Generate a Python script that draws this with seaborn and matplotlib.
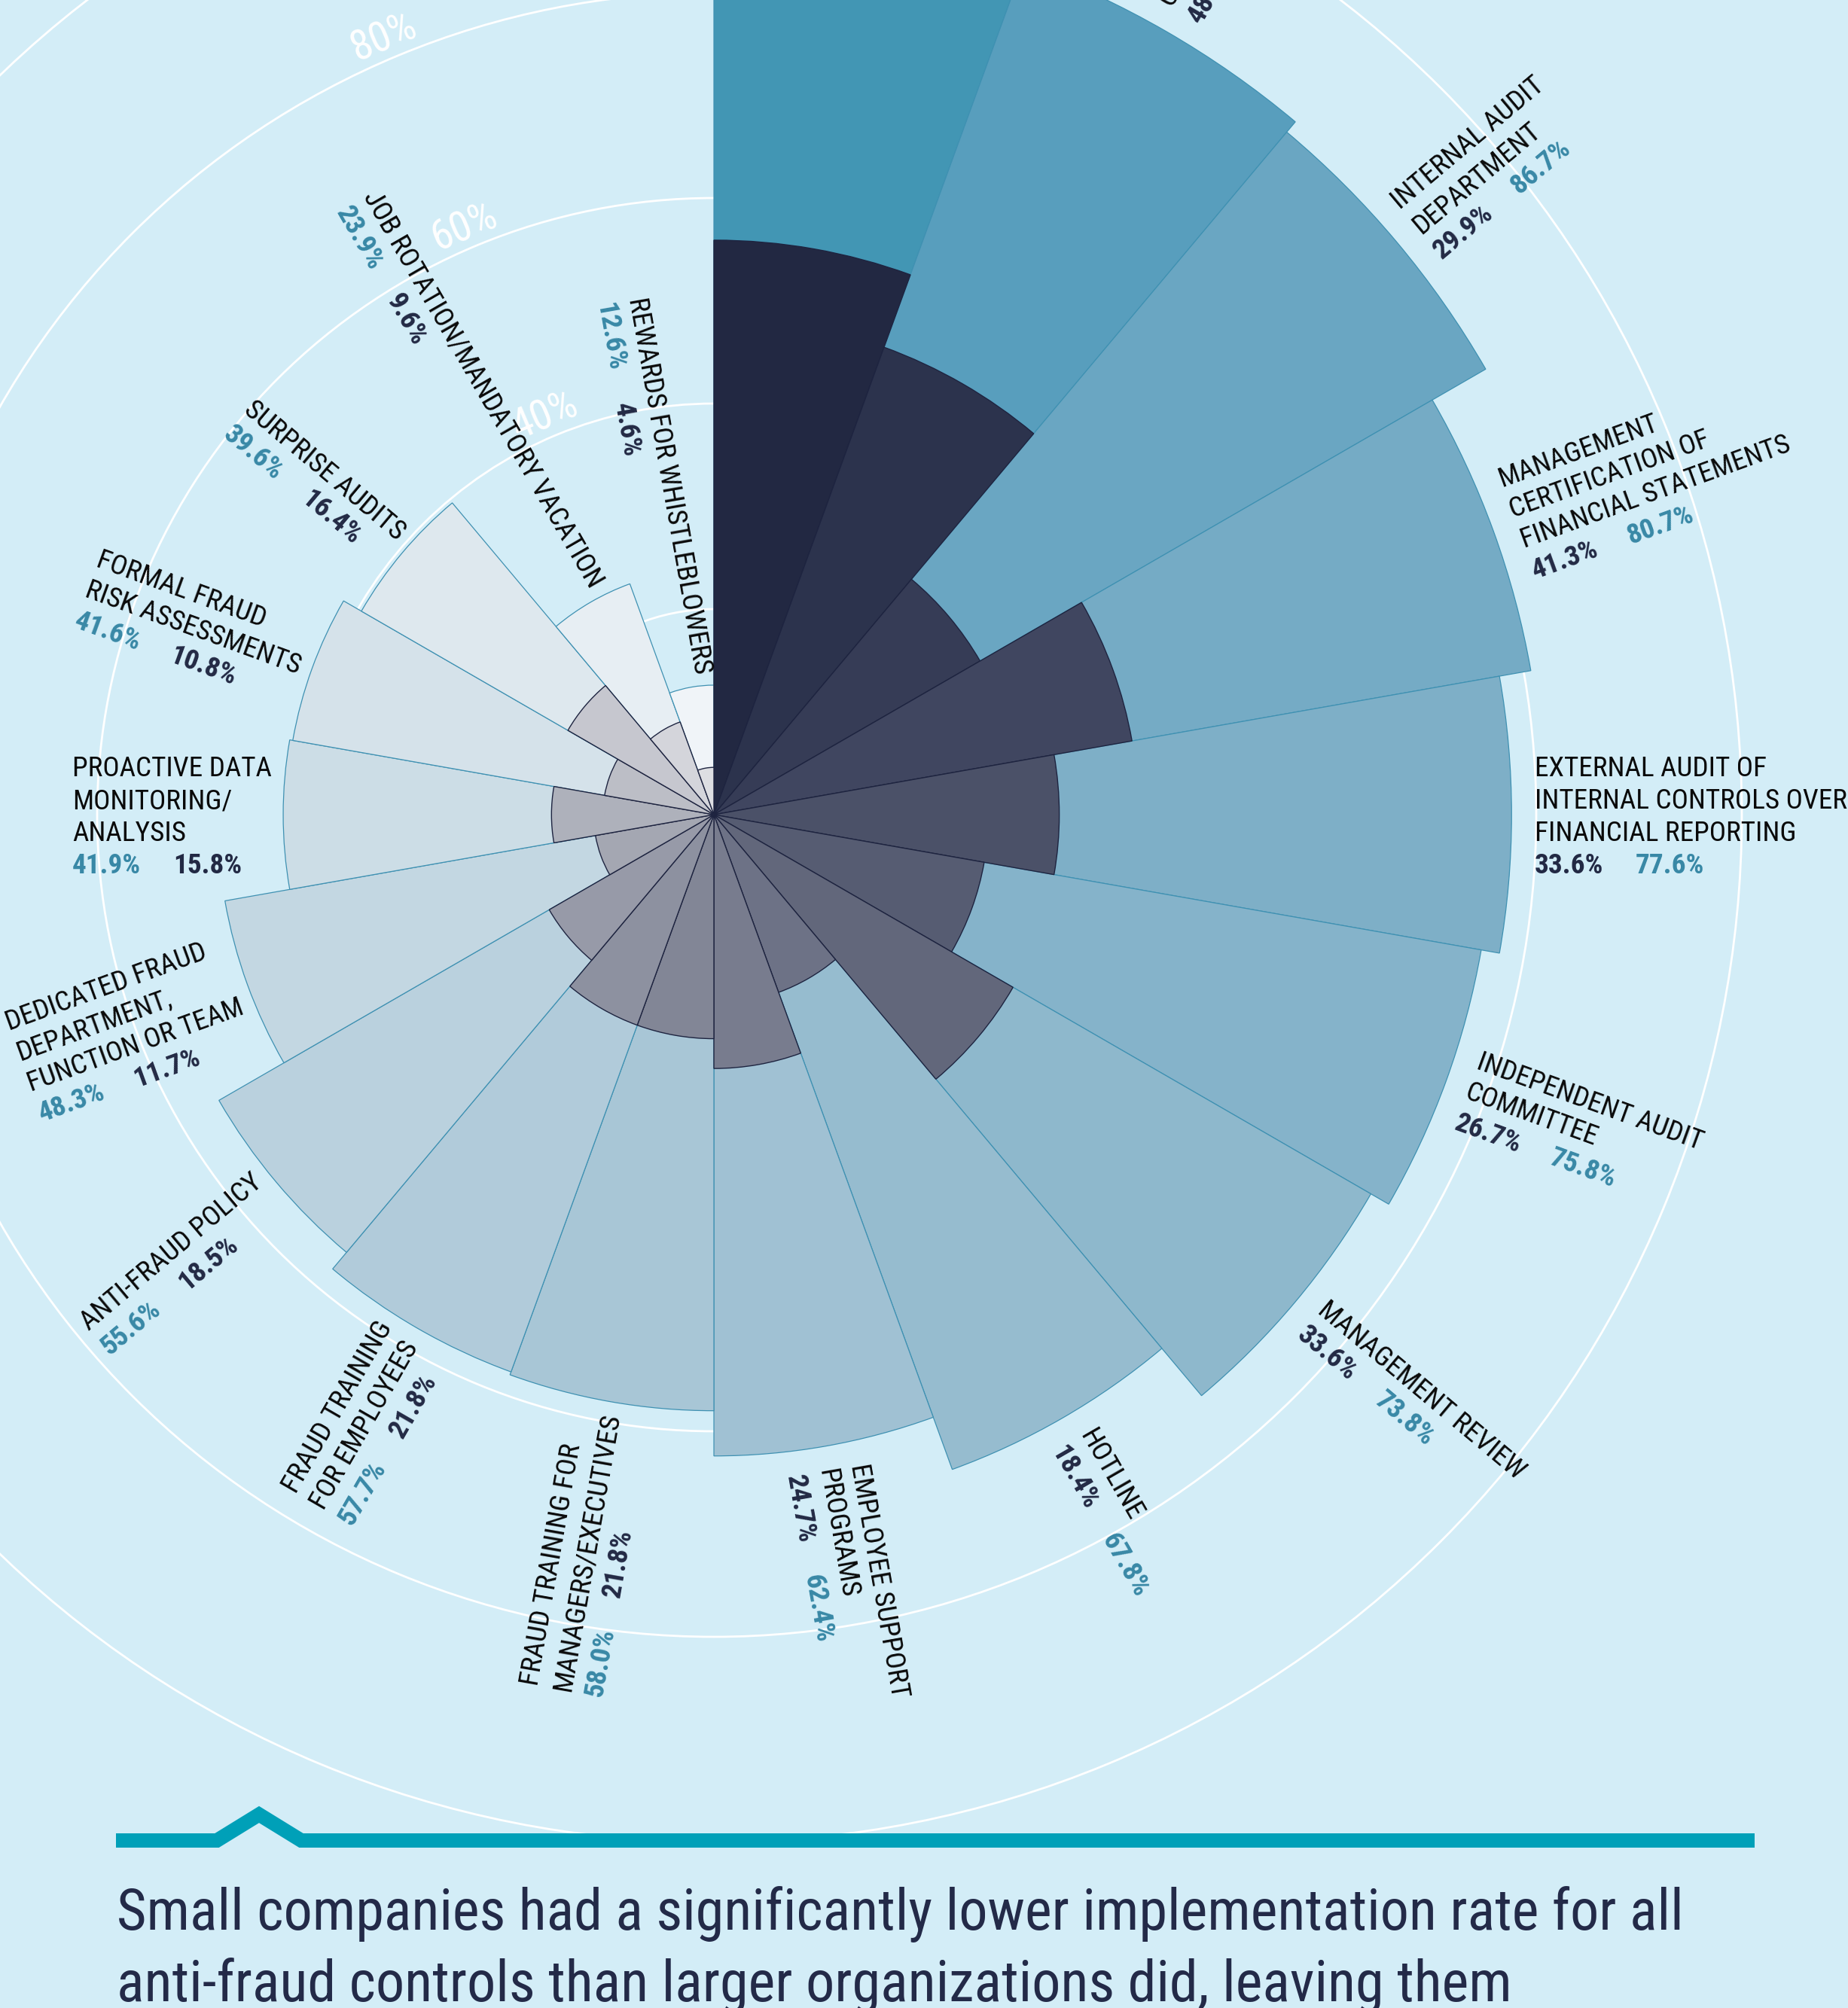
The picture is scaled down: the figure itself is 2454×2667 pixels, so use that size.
import numpy as np
import pandas as pd
import seaborn as sns
import matplotlib
matplotlib.use("Agg")
import matplotlib.pyplot as plt
from matplotlib import font_manager
from matplotlib.font_manager import FontProperties
from matplotlib.lines import Line2D

# ---------------- data ----------------
categories = [
    "EXTERNAL AUDIT OF\nFINANCIAL STATEMENTS",
    "CODE OF CONDUCT",
    "INTERNAL AUDIT\nDEPARTMENT",
    "MANAGEMENT\nCERTIFICATION OF\nFINANCIAL STATEMENTS",
    "EXTERNAL AUDIT OF\nINTERNAL CONTROLS OVER\nFINANCIAL REPORTING",
    "INDEPENDENT AUDIT\nCOMMITTEE",
    "MANAGEMENT REVIEW",
    "HOTLINE",
    "EMPLOYEE SUPPORT\nPROGRAMS",
    "FRAUD TRAINING FOR\nMANAGERS/EXECUTIVES",
    "FRAUD TRAINING\nFOR EMPLOYEES",
    "ANTI-FRAUD POLICY",
    "DEDICATED FRAUD\nDEPARTMENT,\nFUNCTION OR TEAM",
    "PROACTIVE DATA\nMONITORING/\nANALYSIS",
    "FORMAL FRAUD\nRISK ASSESSMENTS",
    "SURPRISE AUDITS",
    "JOB ROTATION/MANDATORY VACATION",
    "REWARDS FOR WHISTLEBLOWERS",
]
large_pct = [91.5, 88.0, 86.7, 80.7, 77.6, 75.8, 73.8, 67.8, 62.4, 58.0,
             57.7, 55.6, 48.3, 41.9, 41.6, 39.6, 23.9, 12.6]
small_pct = [55.9, 48.4, 29.9, 41.3, 33.6, 26.7, 33.6, 18.4, 24.7, 21.8,
             21.8, 18.5, 11.7, 15.8, 10.8, 16.4, 9.6, 4.6]
ring_ticks = [20, 40, 60, 80, 100]
ring_labeled = [40, 60, 80, 100]
caption_lines = [
    "Small companies had a significantly lower implementation rate for all",
    "anti-fraud controls than larger organizations did, leaving them",
]

# ---------------- style ----------------
large_colors = ["#4296B4", "#589EBD", "#6AA6C2", "#75ABC5", "#7EAFC7", "#85B3CA",
                "#8EB8CC", "#96BCCF", "#A0C1D3", "#A8C6D6", "#B1CBDA", "#BAD1DE",
                "#C3D7E2", "#CCDDE6", "#D5E2EA", "#DEE8EE", "#E7EEF3", "#F0F4F8"]
small_colors = ["#222842", "#2C334D", "#363C56", "#404660", "#4B5168", "#565C72",
                "#62677B", "#6D7286", "#787C8E", "#828696", "#8D91A0", "#979AA8",
                "#A4A7B2", "#AEB1BB", "#BCBEC6", "#C6C7CF", "#D4D5DB", "#DDDEE2"]
BG = "#D3EDF7"
TEAL_TXT = "#3888A6"
DARK_TXT = "#222944"
LINE_TEAL = "#00A0B8"

W, H, DPI = 2454, 2667, 100

sns.set_theme(style="white")
names = {f.name for f in font_manager.fontManager.ttflist}
cands = ["Liberation Sans Narrow", "Roboto Condensed", "Open Sans Condensed",
         "Liberation Sans", "DejaVu Sans"]
FONT = next(c for c in cands if c in names)
narrow = FONT in ("Liberation Sans Narrow", "Roboto Condensed", "Open Sans Condensed")
FAM = [FONT, "DejaVu Sans"]
plt.rcParams["font.family"] = FAM
SC = 1.0 if narrow else 0.84

fig = plt.figure(figsize=(W / DPI, H / DPI), dpi=DPI, facecolor=BG)

CX, CY = 948, 1082      # polar centre (px from top-left)
K = 13.65               # px per percentage point
RMAX = 102
R = RMAX * K
ax = fig.add_axes([(CX - R) / W, 1 - (CY + R) / H, 2 * R / W, 2 * R / H],
                  projection="polar")
ax.set_theta_zero_location("N")
ax.set_theta_direction(-1)
ax.patch.set_alpha(0)

n = len(categories)
step = 360 / n
theta_deg = step / 2 + step * np.arange(n)
df = pd.DataFrame({"key": [f"c{i}" for i in range(n)],
                   "theta": np.deg2rad(theta_deg),
                   "large": large_pct, "small": small_pct})

sns.barplot(data=df, x="theta", y="large", hue="key", palette=large_colors,
            saturation=1, dodge=False, native_scale=True, width=1.0,
            errorbar=None, edgecolor="#3F91B2", linewidth=0.9, legend=False,
            ax=ax, zorder=2)
sns.barplot(data=df, x="theta", y="small", hue="key", palette=small_colors,
            saturation=1, dodge=False, native_scale=True, width=1.0,
            errorbar=None, edgecolor="#1E2440", linewidth=1.0, legend=False,
            ax=ax, zorder=3)

ax.set_thetalim(0, 2 * np.pi)
ax.set_rlim(0, RMAX)
ax.set_xticks([])
ax.set_yticks(ring_ticks)
ax.set_yticklabels([])
ax.yaxis.grid(True, color="white", linewidth=2.0)
ax.xaxis.grid(False)
ax.spines["polar"].set_visible(False)
ax.set_axisbelow(True)
ax.set_xlabel("")
ax.set_ylabel("")

# ring labels
for v in ring_labeled:
    ax.text(np.deg2rad(-23), v + 0.2, f"{v}%", rotation=23, rotation_mode="anchor",
            ha="center", va="bottom", color="white", fontsize=40 * SC,
            family=FAM, clip_on=False, zorder=1)

# category labels
renderer = fig.canvas.get_renderer()
FS = 26.8 * SC
fp_name = FontProperties(family=FAM, size=FS)
fp_pct = FontProperties(family=FAM, size=FS, weight="bold")


def text_w(s, fp):
    w, h, d = renderer.get_text_width_height_descent(s, fp, ismath=False)
    return w * 72 / DPI


P = 31.0 * SC     # baseline pitch (pt)
CAP = 20.0 * SC   # cap height (pt)
GAP_R = 22.0      # gap from bar end, right half (pt)
GAP_L = 11.0      # gap from bar end, left half (pt)
PGAP = 31.0 * SC  # gap between the two percentages (pt)

for i in range(n):
    th = theta_deg[i]
    right = th < 180
    rot = 90 - th if right else 270 - th
    lines = categories[i].split("\n")
    s_large = f"{large_pct[i]:.1f}%"
    s_small = f"{small_pct[i]:.1f}%"
    pcts = [(s_small, DARK_TXT), (s_large, TEAL_TXT)] if right else \
           [(s_large, TEAL_TXT), (s_small, DARK_TXT)]
    w1 = text_w(pcts[0][0], fp_pct)
    w2 = text_w(pcts[1][0], fp_pct)
    wblock = max(max(text_w(l, fp_name) for l in lines), w1 + PGAP + w2)
    u0 = GAP_R if right else -GAP_L - wblock
    nl = len(lines)
    vb1 = (nl * P - CAP) / 2
    items = [(l, u0, vb1 - k * P, fp_name, "#0A0A0A") for k, l in enumerate(lines)]
    items += [(pcts[0][0], u0, vb1 - nl * P, fp_pct, pcts[0][1]),
              (pcts[1][0], u0 + w1 + PGAP, vb1 - nl * P, fp_pct, pcts[1][1])]
    cr, sr = np.cos(np.deg2rad(rot)), np.sin(np.deg2rad(rot))
    for s, u, v, fp, c in items:
        dx = u * cr - v * sr
        dy = u * sr + v * cr
        ax.annotate(s, xy=(np.deg2rad(th), large_pct[i]), xytext=(dx, dy),
                    textcoords="offset points", rotation=rot,
                    rotation_mode="anchor", ha="left", va="baseline",
                    fontproperties=fp, color=c, annotation_clip=False, zorder=5)

# decorative teal rule with a chevron
xs = np.array([154, 288, 344, 400, 2330])
ys = np.array([2444.5, 2444.5, 2410, 2444.5, 2444.5])
fig.add_artist(Line2D(xs / W, 1 - ys / H, transform=fig.transFigure,
                      color=LINE_TEAL, linewidth=19 * 72 / DPI,
                      solid_joinstyle="miter", solid_capstyle="butt"))

# caption
fp_cap = FontProperties(family=FAM, size=58)
wc = text_w(caption_lines[0], fp_cap) * DPI / 72
cap_size = 58 * min(1.0, 2078 / wc)
for k, (line, base) in enumerate(zip(caption_lines, [2563, 2658])):
    fig.text(155 / W, 1 - base / H, line, ha="left", va="baseline",
             fontsize=cap_size, family=FAM, color="#232A48")

fig.savefig("out.png", dpi=DPI, facecolor=BG)
